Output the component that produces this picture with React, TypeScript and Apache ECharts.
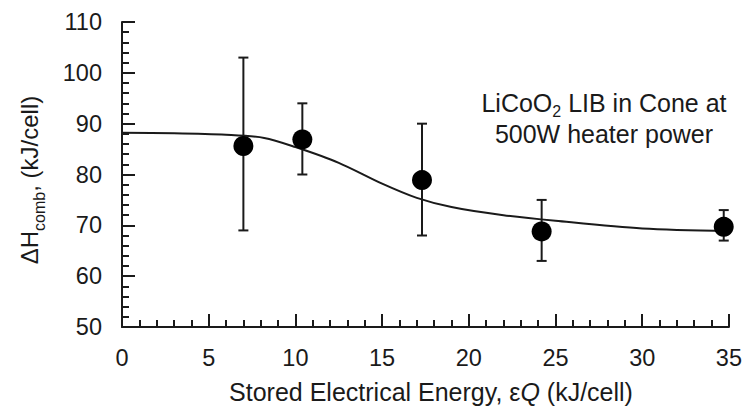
import React, { useEffect, useRef } from "react";
import * as echarts from "echarts";

const xTicks = [0, 5, 10, 15, 20, 25, 30, 35];
const yTicks = [50, 60, 70, 80, 90, 100, 110];

const pointX = [7.0, 10.4, 17.3, 24.2, 34.7];
const pointY = [85.6, 86.9, 78.9, 68.8, 69.7];
const errLow = [69, 80, 68, 63, 67];
const errHigh = [103, 94, 90, 75, 73];

const curveX = [0, 3, 6, 8.2, 10, 12.5, 15, 17, 19, 22, 25, 30, 35];
const curveY = [88.2, 88.1, 87.8, 87.2, 85.4, 82.3, 78.2, 75.4, 73.6, 72.0, 70.9, 69.4, 68.9];

const FONT = "Liberation Sans, Arial, Helvetica, sans-serif";
const INK = "#1a1a1a";

export default function App() {
  const ref = useRef<HTMLDivElement>(null);
  useEffect(() => {
    if (!ref.current) return;
    const chart = echarts.init(ref.current, undefined, { renderer: "svg" });
    const axisCommon = {
      axisLine: { show: true, lineStyle: { color: INK, width: 2 } },
      axisTick: { show: true, inside: true, length: 13, lineStyle: { color: INK, width: 2 } },
      minorTick: { show: true, splitNumber: 5, length: 7, lineStyle: { color: INK, width: 2 } },
      splitLine: { show: false },
      minorSplitLine: { show: false },
      axisLabel: { color: INK, fontSize: 23.5, fontFamily: FONT, margin: 18 },
    };
    chart.setOption({
      animation: false,
      backgroundColor: "#ffffff",
      grid: { left: 122, right: 13, top: 22, bottom: 88, containLabel: false },
      xAxis: {
        type: "value",
        min: xTicks[0],
        max: xTicks[xTicks.length - 1],
        interval: 5,
        ...axisCommon,
        axisLabel: { ...axisCommon.axisLabel, margin: 19, formatter: (v: number) => (xTicks.includes(v) ? String(v) : "") },
      },
      yAxis: {
        type: "value",
        min: yTicks[0],
        max: yTicks[yTicks.length - 1],
        interval: 10,
        ...axisCommon,
        axisLabel: { ...axisCommon.axisLabel, margin: 20, formatter: (v: number) => (yTicks.includes(v) ? String(v) : "") },
      },
      graphic: [
        {
          type: "text",
          x: 431,
          y: 392,
          style: {
            text: "Stored Electrical Energy, {e|ε}{i|Q} (kJ/cell)",
            fill: INK,
            font: `25px ${FONT}`,
            align: "center",
            verticalAlign: "middle",
            rich: {
              e: { fontSize: 25, fontFamily: FONT, fill: INK },
              i: { fontSize: 25, fontFamily: FONT, fontStyle: "italic", fill: INK },
            },
          },
        },
        {
          type: "text",
          x: 27,
          y: 180,
          rotation: Math.PI / 2,
          style: {
            text: "{a|ΔH}{s|comb}{a|, (kJ/cell)}",
            fill: INK,
            align: "center",
            verticalAlign: "middle",
            rich: {
              a: { fontSize: 24, fontFamily: FONT, fill: INK, lineHeight: 28, verticalAlign: "bottom" },
              s: { fontSize: 16, fontFamily: FONT, fill: INK, lineHeight: 28, verticalAlign: "bottom", padding: [0, 0, -6, 0] },
            },
          },
        },
        {
          type: "text",
          x: 604,
          y: 103,
          style: {
            text: "{a|LiCoO}{s|2}{a| LIB in Cone at}",
            fill: INK,
            align: "center",
            verticalAlign: "middle",
            rich: {
              a: { fontSize: 25, fontFamily: FONT, fill: INK, lineHeight: 25, verticalAlign: "bottom" },
              s: { fontSize: 16, fontFamily: FONT, fill: INK, lineHeight: 16, verticalAlign: "bottom", padding: [0, 0, -4, 0] },
            },
          },
        },
        {
          type: "text",
          x: 604,
          y: 134,
          style: {
            text: "500W heater power",
            fill: INK,
            font: `25px ${FONT}`,
            lineHeight: 25,
            align: "center",
            verticalAlign: "middle",
          },
        },
      ],
      series: [
        {
          type: "line",
          data: curveX.map((x, i) => [x, curveY[i]]),
          smooth: 0.3,
          showSymbol: false,
          symbol: "none",
          lineStyle: { color: INK, width: 2 },
          z: 2,
        },
        {
          type: "custom",
          data: pointX.map((x, i) => [x, errLow[i], errHigh[i]]),
          renderItem: (params: any, api: any) => {
            const x = api.value(0);
            const lo = api.coord([x, api.value(1)]);
            const hi = api.coord([x, api.value(2)]);
            const cap = 5;
            const style = { stroke: INK, lineWidth: 2 };
            return {
              type: "group",
              children: [
                { type: "line", shape: { x1: lo[0], y1: lo[1], x2: hi[0], y2: hi[1] }, style },
                { type: "line", shape: { x1: lo[0] - cap, y1: lo[1], x2: lo[0] + cap, y2: lo[1] }, style },
                { type: "line", shape: { x1: hi[0] - cap, y1: hi[1], x2: hi[0] + cap, y2: hi[1] }, style },
              ],
            };
          },
          z: 3,
        },
        {
          type: "scatter",
          data: pointX.map((x, i) => [x, pointY[i]]),
          symbol: "circle",
          symbolSize: 20,
          itemStyle: { color: "#000000", opacity: 1 },
          z: 4,
        },
      ],
    });
    return () => chart.dispose();
  }, []);
  return <div ref={ref} style={{ width: 745, height: 415, position: "absolute", left: 0, top: 0 }} />;
}
